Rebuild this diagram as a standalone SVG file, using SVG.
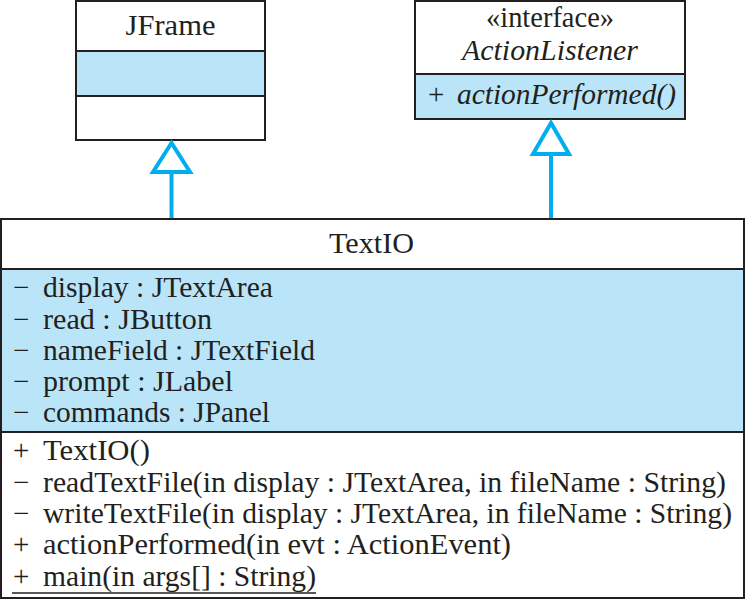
<svg xmlns="http://www.w3.org/2000/svg" width="745" height="600" viewBox="0 0 745 600">
<style>
.box{stroke:#231f20;stroke-width:2;fill:#ffffff}
.blue{stroke:#231f20;stroke-width:2;fill:#bae5f9}
.t{font-family:"Liberation Serif","Times New Roman",serif;font-size:29px;fill:#231f20}
.c{text-anchor:middle}
.i{font-style:italic}
.conn{stroke:#00aeef;stroke-width:4;fill:none}
.head{stroke:#00aeef;stroke-width:4;fill:#ffffff;stroke-linejoin:miter}
</style>
<rect width="745" height="600" fill="#ffffff"/>
<g id="JFrame">
<rect class="box" x="76" y="1" width="189" height="139"/>
<rect class="blue" x="76" y="51" width="189" height="45"/>
<text class="t c" x="170.5" y="35" textLength="90" lengthAdjust="spacingAndGlyphs">JFrame</text>
</g>
<g id="ActionListener">
<rect class="box" x="415" y="1" width="270" height="118"/>
<rect class="blue" x="415" y="74" width="270" height="45"/>
<text class="t c" x="550" y="27" textLength="128" lengthAdjust="spacingAndGlyphs">«interface»</text>
<text class="t c i" x="550" y="60" textLength="176" lengthAdjust="spacingAndGlyphs">ActionListener</text>
<text class="t" x="428" y="104">+</text>
<text class="t i" x="457" y="104" textLength="219" lengthAdjust="spacingAndGlyphs">actionPerformed()</text>
</g>
<g id="TextIO">
<rect class="box" x="1" y="219" width="743" height="379"/>
<rect class="blue" x="1" y="269" width="743" height="163"/>
<text class="t c" x="371.5" y="253" textLength="85" lengthAdjust="spacingAndGlyphs">TextIO</text>
<g class="t">
<text x="13" y="297">−</text><text x="43" y="297" textLength="230" lengthAdjust="spacingAndGlyphs">display : JTextArea</text>
<text x="13" y="329">−</text><text x="43" y="329" textLength="169" lengthAdjust="spacingAndGlyphs">read : JButton</text>
<text x="13" y="360">−</text><text x="43" y="360" textLength="272" lengthAdjust="spacingAndGlyphs">nameField : JTextField</text>
<text x="13" y="391">−</text><text x="43" y="391" textLength="190" lengthAdjust="spacingAndGlyphs">prompt : JLabel</text>
<text x="13" y="422">−</text><text x="43" y="422" textLength="227" lengthAdjust="spacingAndGlyphs">commands : JPanel</text>
<text x="13" y="460">+</text><text x="43" y="460" textLength="107" lengthAdjust="spacingAndGlyphs">TextIO()</text>
<text x="13" y="492">−</text><text x="43" y="492" textLength="683" lengthAdjust="spacingAndGlyphs">readTextFile(in display : JTextArea, in fileName : String)</text>
<text x="13" y="523">−</text><text x="43" y="523" textLength="689" lengthAdjust="spacingAndGlyphs">writeTextFile(in display : JTextArea, in fileName : String)</text>
<text x="13" y="554">+</text><text x="43" y="554" textLength="468" lengthAdjust="spacingAndGlyphs">actionPerformed(in evt : ActionEvent)</text>
<text x="13" y="586">+</text><text x="43" y="586" textLength="273" lengthAdjust="spacingAndGlyphs">main(in args[] : String)</text>
</g>
<line x1="12" y1="593" x2="316" y2="593" stroke="#231f20" stroke-width="1.5"/>
</g>
<g id="connectors">
<line class="conn" x1="171.5" y1="218" x2="171.5" y2="172"/>
<polygon class="head" points="171.5,143 153,172 190,172"/>
<line class="conn" x1="551" y1="218" x2="551" y2="154"/>
<polygon class="head" points="551,123 533,154 569,154"/>
</g>
</svg>
